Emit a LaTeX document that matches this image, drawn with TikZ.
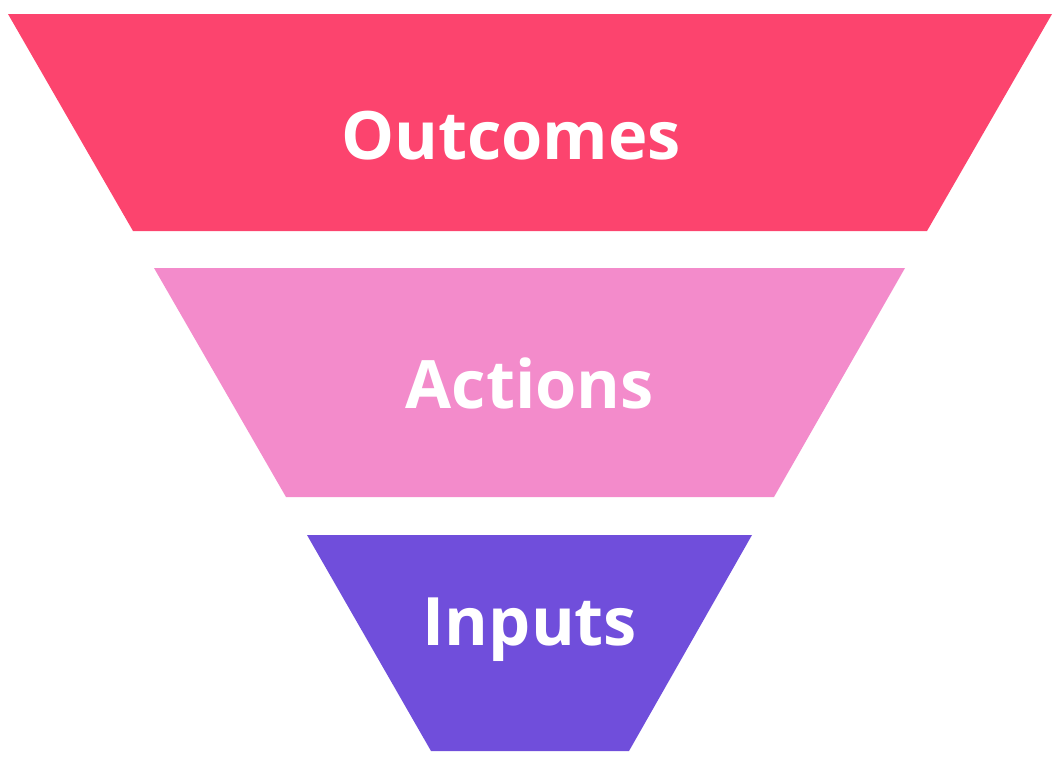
\documentclass[tikz,border=0pt]{standalone}
\usepackage{fontspec}
\setmainfont{Open Sans}
\definecolor{outcomesred}{HTML}{FC446E}
\definecolor{actionspink}{HTML}{F38BCB}
\definecolor{inputsviolet}{HTML}{704EDB}
\begin{document}
\begin{tikzpicture}[x=0.02cm, y=-0.02cm,
    level/.style={draw=none},
    label/.style={text=white, font=\fontsize{38}{40}\selectfont\bfseries}]
    \useasboundingbox (0,0) rectangle (1061,768);

    % Funnel levels
    \fill[outcomesred] (8,14) -- (1052,14) -- (927,231) -- (133,231) -- cycle;
    \fill[actionspink] (154,268) -- (905,268) -- (774,497) -- (286,497) -- cycle;
    \fill[inputsviolet] (307,535) -- (752,535) -- (629,751) -- (431,751) -- cycle;

    % Labels
    \node[label] (outcomes) at (511,136) {Outcomes};
    \node[label] (actions) at (530,383) {Actions};
    \node[label] (inputs) at (530,630) {Inputs};
\end{tikzpicture}
\end{document}
